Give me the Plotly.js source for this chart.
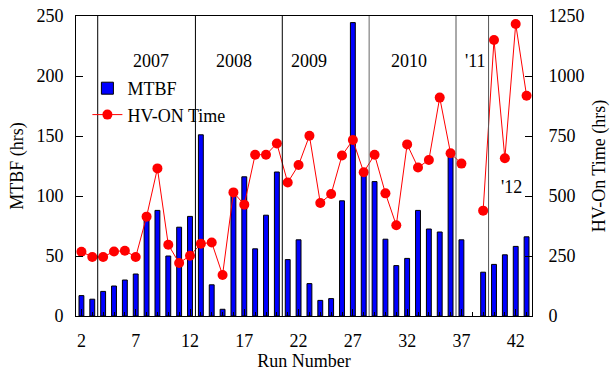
<!DOCTYPE html>
<html>
<head>
<meta charset="utf-8">
<script src="https://cdn.plot.ly/plotly-3.0.1.min.js"></script>
<style>html,body{margin:0;padding:0;background:#fff;}#chart{width:611px;height:371px;}</style>
</head>
<body>
<div id="chart"></div>
<script>
const runs = [2,3,4,5,6,7,8,9,10,11,12,13,14,15,16,17,18,19,20,21,22,23,24,25,26,27,28,29,30,31,32,33,34,35,36,37,38,39,40,41,42,43];
const mtbf = [17,14,20.5,25,30,35,83,88,50,74,83,151,26,5.6,102,116,56,84,120,47,63.5,27,13,14.5,96,244.5,118,112,64,42,48,88,72.5,70,134,63.5,null,36.5,43,51,58,66];
const hvOn = [268,246,246,269,272,246,414,615,297,221,251,301,306,171,515,464,672,672,719,556,629,751,471,508,669,733,599,672,511,378,715,619,650,910,678,635,null,439,1150,657,1217,918];
const yearBreaks = [3.5,12.5,20.5,28.5,36.5,39.5];
const breakColors = ['#000','#000','#000','#666','#555','#555'];
const yearLabels = ['2007','2008','2009','2010',"'11","'12"];
const yearLabelX = [8.4,16.05,22.95,32.15,38.25,41.6];
const yearLabelY = [0.89,0.89,0.89,0.89,0.89,0.43];

const font = {family: 'Liberation Serif, serif', size: 18, color: '#000'};

const traces = [
  {type:'bar', x: runs, y: mtbf, name:'MTBF', width:0.45,
   marker:{color:'#0000ff', line:{color:'#000', width:1}}, yaxis:'y'},
  {type:'scatter', mode:'lines+markers', x: runs, y: hvOn, name:'HV-ON Time', yaxis:'y2',
   connectgaps:false,
   line:{color:'#ff0000', width:1}, marker:{color:'#ff0000', size:10}}
];

const shapes = yearBreaks.map((b,i)=>({type:'line', xref:'x', yref:'paper', x0:b, x1:b, y0:0, y1:1,
  line:{color:breakColors[i], width:1}}));
const annotations = yearLabels.map((t,i)=>({text:t, xref:'x', yref:'paper', x:yearLabelX[i], y:yearLabelY[i],
  showarrow:false, font:font}));

const layout = {
  width:611, height:371,
  margin:{l:76, r:79, t:16, b:55},
  paper_bgcolor:'#fff', plot_bgcolor:'#fff',
  font: font,
  showlegend:true,
  bargap:0,
  legend:{x:0.025, y:0.82, xanchor:'left', yanchor:'top', bgcolor:'rgba(255,255,255,0)', font:font, tracegroupgap:0, itemwidth:30},
  xaxis:{range:[1.5,43.5], tick0:2, dtick:5, ticks:'inside', ticklen:7, tickcolor:'#000',
    showline:true, linecolor:'#000', linewidth:1, mirror:true, showgrid:false, zeroline:false,
    minor:{dtick:1, tick0:0, ticks:'inside', ticklen:4, tickcolor:'#000', showgrid:false},
    ticklabelstandoff:8,
    title:{text:'Run Number', font:font, standoff:4}, tickfont:{family:'Liberation Serif, serif', size:18, color:'#000'}},
  yaxis:{range:[0,250], dtick:50, ticks:'inside', ticklen:7, tickcolor:'#000',
    showline:true, linecolor:'#000', linewidth:1, showgrid:false, zeroline:false,
    ticklabelstandoff:8,
    title:{text:'MTBF (hrs)', font:font, standoff:8}, tickfont:{family:'Liberation Serif, serif', size:18, color:'#000'}},
  yaxis2:{range:[0,1250], dtick:250, ticks:'inside', ticklen:7, tickcolor:'#000', overlaying:'y', side:'right',
    showline:true, linecolor:'#000', linewidth:1, showgrid:false, zeroline:false,
    ticklabelstandoff:12,
    title:{text:'HV-On Time (hrs)', font:font, standoff:8}, tickfont:{family:'Liberation Serif, serif', size:18, color:'#000'}},
  shapes: shapes,
  annotations: annotations
};

Plotly.newPlot('chart', traces, layout, {staticPlot:true, displayModeBar:false});
</script>
</body>
</html>
